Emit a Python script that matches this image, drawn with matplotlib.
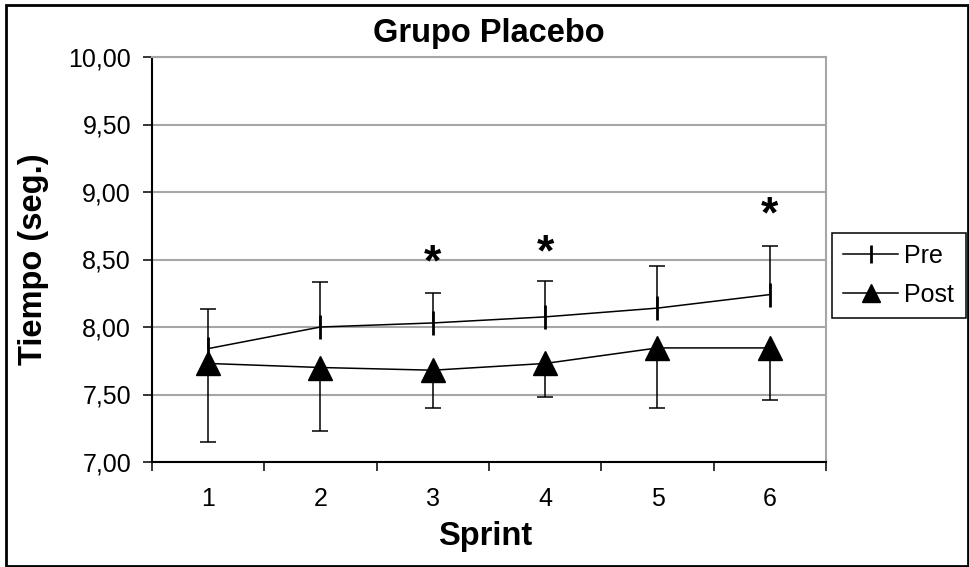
import numpy as np
import matplotlib
matplotlib.use("Agg")
import matplotlib.pyplot as plt
from matplotlib.patches import Rectangle
from matplotlib.ticker import FuncFormatter
from matplotlib.transforms import offset_copy

# values
sprints = [1, 2, 3, 4, 5, 6]
pre_mean = [7.84, 8.00, 8.03, 8.075, 8.14, 8.24]
pre_sd = [0.29, 0.33, 0.22, 0.265, 0.31, 0.36]
post_mean = [7.73, 7.70, 7.68, 7.73, 7.845, 7.845]
post_sd = [0.58, 0.47, 0.28, 0.25, 0.445, 0.385]
star_x = [3, 4, 6]
star_y = [8.56, 8.64, 8.92]
y_ticks = [7.0, 7.5, 8.0, 8.5, 9.0, 9.5, 10.0]

plt.rcParams['font.family'] = ['Liberation Sans', 'DejaVu Sans']

W, H = 970, 567
fig = plt.figure(figsize=(W / 100, H / 100), dpi=100)
# plot area in pixels: x 152..826, y 57..462
ax = fig.add_axes([152 / W, 1 - 462 / H, (826 - 152) / W, (462 - 57) / H])

x = np.array(sprints)
pre = np.array(pre_mean)
post = np.array(post_mean)
pre_top = pre + np.array(pre_sd)
post_bot = post - np.array(post_sd)

# error bars: Pre upward only, Post downward only
ax.vlines(x, pre, pre_top, color="black", lw=1.1, zorder=3)
ax.plot(x, pre_top, ls="none", marker="_", ms=11, mew=1.1, color="black", zorder=3)
ax.vlines(x, post_bot, post, color="black", lw=1.1, zorder=3)
ax.plot(x, post_bot, ls="none", marker="_", ms=11, mew=1.1, color="black", zorder=3)

ax.plot(x, pre, color="black", lw=1.1, marker="|", ms=17, mew=2, zorder=4, label="Pre")
ax.plot(x, post, color="black", lw=1.1, marker="^", ms=17, mec="black", mfc="black",
        zorder=5, label="Post")

# asterisk glyph sits high in its text box, shift it down so the glyph centre is on the value
star_tr = offset_copy(ax.transData, fig=fig, y=-13, units="dots")
for sx, sy in zip(star_x, star_y):
    ax.text(sx, sy, "*", ha="center", va="center", fontsize=32, fontweight="bold",
            color="black", transform=star_tr)

ax.set_xlim(0.5, 6.5)
ax.set_ylim(7, 10)
ax.set_yticks(y_ticks)
ax.yaxis.set_major_formatter(FuncFormatter(lambda v, p: f"{v:.2f}".replace(".", ",")))
ax.yaxis.grid(True, color="#a6a6a6", lw=1.5)
ax.set_axisbelow(True)

ax.set_xticks(x)
ax.set_xticks(np.arange(0.5, 6.6, 1), minor=True)
ax.tick_params(axis="x", which="major", length=0, pad=18, labelsize=18)
ax.tick_params(axis="x", which="minor", length=6.5, width=1.1, direction="out")
ax.tick_params(axis="y", length=6.5, width=1.1, pad=8.6, labelsize=18)

for s in ["left", "bottom"]:
    ax.spines[s].set_color("black")
    ax.spines[s].set_linewidth(1.5)
for s in ["top", "right"]:
    ax.spines[s].set_color("#a6a6a6")
    ax.spines[s].set_linewidth(1.5)

fig.text(489 / W, 1 - 41.7 / H, "Grupo Placebo", ha="center", va="baseline",
         fontsize=23.5, fontweight="bold")
fig.text(485 / W, 1 - 545 / H, "Sprint", ha="center", va="baseline",
         fontsize=23.5, fontweight="bold")
fig.text(34 / W, 1 - 259.5 / H, "Tiempo (seg.)", ha="center", va="center",
         rotation=90, fontsize=23.5, fontweight="bold")

leg = ax.legend(loc="upper left", bbox_to_anchor=(832 / W, 1 - 233 / H),
                bbox_transform=fig.transFigure, frameon=True, fancybox=False,
                edgecolor="black", framealpha=1, fontsize=18, handlelength=2.2,
                handletextpad=0.25, borderpad=0.45, labelspacing=0.6,
                borderaxespad=0, markerscale=0.75)
leg.get_frame().set_linewidth(1.1)

fig.add_artist(Rectangle((6 / W, 1 - 566 / H), (968 - 6) / W, (566 - 5) / H,
                         transform=fig.transFigure, fill=False, lw=2, ec="black"))

fig.savefig("out.png", dpi=100)
